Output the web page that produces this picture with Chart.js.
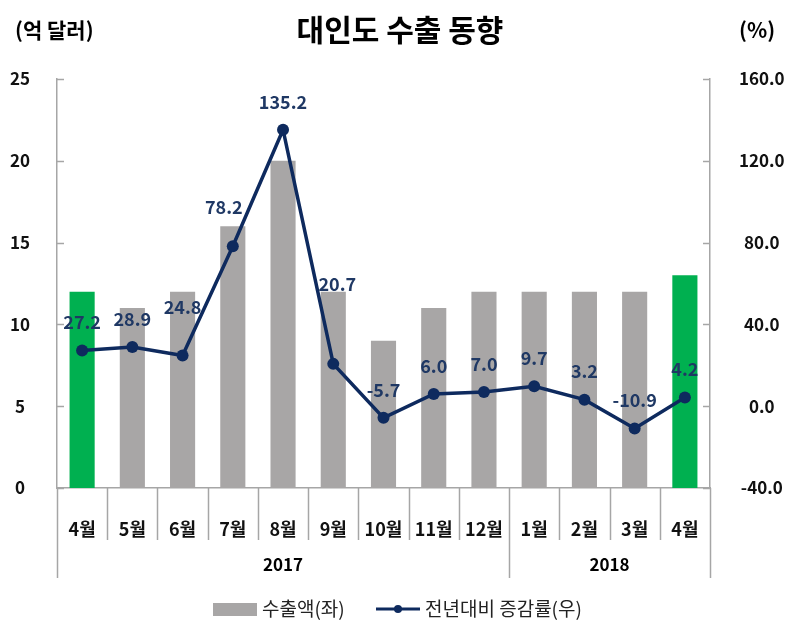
<!DOCTYPE html>
<html>
<head>
<meta charset="utf-8">
<script src="https://cdn.jsdelivr.net/npm/chart.js@4.4.1/dist/chart.umd.min.js"></script>
<style>
  html, body { margin: 0; padding: 0; background: #fff; }
</style>
</head>
<body>
<canvas id="chart" width="791" height="643"></canvas>
<script>
const months = ['4월', '5월', '6월', '7월', '8월', '9월', '10월', '11월', '12월', '1월', '2월', '3월', '4월'];
const years = ['2017', '2018'];
const yearSpans = [9, 4]; // months in each year group
const exportValues = [12, 11, 12, 16, 20, 12, 9, 11, 12, 12, 12, 12, 13];
const growthRates = [27.2, 28.9, 24.8, 78.2, 135.2, 20.7, -5.7, 6.0, 7.0, 9.7, 3.2, -10.9, 4.2];
const leftTicks = [0, 5, 10, 15, 20, 25];
const rightTicks = [-40, 0, 40, 80, 120, 160];

const FONT = '"Noto Sans CJK KR", "Noto Sans", sans-serif';
const GREY = '#a8a6a6';
const GREEN = '#00b050';
const NAVY = '#0e2a5e';
const AXIS = '#a6a6a6';

// a few value labels were moved by hand in the original so they clear the line
const labelNudge = { 2: [0, -48], 3: [-9, -39], 5: [4, -80] };

const decor = {
  id: 'decor',
  afterDatasetsDraw(chart) {
    const ctx = chart.ctx;
    const meta = chart.getDatasetMeta(1);
    ctx.save();
    ctx.fillStyle = '#1f3864';
    ctx.font = 'bold 18px ' + FONT;
    ctx.textAlign = 'center';
    ctx.textBaseline = 'middle';
    meta.data.forEach((pt, i) => {
      const [dx, dy] = labelNudge[i] || [0, -28];
      ctx.fillText(growthRates[i].toFixed(1), pt.x + dx, pt.y + dy);
    });
    ctx.restore();
  },
  afterDraw(chart) {
    const ctx = chart.ctx;
    const x = chart.scales.x, y = chart.scales.y, y1 = chart.scales.y1;
    const area = chart.chartArea;
    ctx.save();

    // title and units
    ctx.fillStyle = '#000';
    ctx.textBaseline = 'middle';
    ctx.textAlign = 'center';
    ctx.font = 'bold 30px ' + FONT;
    ctx.fillText('대인도 수출 동향', 400, 30);
    ctx.font = 'bold 21px ' + FONT;
    ctx.textAlign = 'left';
    ctx.fillText('(억 달러)', 15, 30);
    ctx.fillText('(%)', 739, 30);

    // inner tick marks on both value axes
    ctx.strokeStyle = AXIS;
    ctx.lineWidth = 1.5;
    y.ticks.forEach(t => {
      const py = Math.round(y.getPixelForValue(t.value)) + 0.5;
      ctx.beginPath(); ctx.moveTo(area.left, py); ctx.lineTo(area.left + 7, py); ctx.stroke();
    });
    y1.ticks.forEach(t => {
      const py = Math.round(y1.getPixelForValue(t.value)) + 0.5;
      ctx.beginPath(); ctx.moveTo(area.right - 7, py); ctx.lineTo(area.right, py); ctx.stroke();
    });

    // category separators, longer at year boundaries
    const n = months.length;
    const bounds = [];
    let acc = 0;
    const groupEdges = [0];
    yearSpans.forEach(s => { acc += s; groupEdges.push(acc); });
    for (let i = 0; i <= n; i++) {
      let px;
      if (i === 0) px = area.left;
      else if (i === n) px = area.right;
      else px = (x.getPixelForValue(i - 1) + x.getPixelForValue(i)) / 2;
      bounds.push(px);
      const long = groupEdges.includes(i);
      ctx.beginPath();
      ctx.moveTo(Math.round(px) + 0.5, area.bottom);
      ctx.lineTo(Math.round(px) + 0.5, long ? 578 : 540);
      ctx.stroke();
    }

    // year labels
    ctx.fillStyle = '#000';
    ctx.font = 'bold 17px ' + FONT;
    ctx.textAlign = 'center';
    years.forEach((yr, k) => {
      const cx = (bounds[groupEdges[k]] + bounds[groupEdges[k + 1]]) / 2;
      ctx.fillText(yr, cx, 565);
    });

    // legend
    ctx.fillStyle = GREY;
    ctx.fillRect(213, 603, 44, 13);
    ctx.fillStyle = '#222';
    ctx.font = '19px ' + FONT;
    ctx.textAlign = 'left';
    ctx.fillText(chart.data.datasets[0].label, 262, 609);
    ctx.strokeStyle = NAVY;
    ctx.lineWidth = 3;
    ctx.beginPath(); ctx.moveTo(376, 609); ctx.lineTo(420, 609); ctx.stroke();
    ctx.fillStyle = NAVY;
    ctx.beginPath(); ctx.arc(398, 609, 4, 0, Math.PI * 2); ctx.fill();
    ctx.fillStyle = '#222';
    ctx.fillText(chart.data.datasets[1].label, 425, 609);

    ctx.restore();
  }
};

new Chart(document.getElementById('chart').getContext('2d'), {
  data: {
    labels: months,
    datasets: [{
      type: 'bar',
      label: '수출액(좌)',
      data: exportValues,
      yAxisID: 'y',
      backgroundColor: ctx => (ctx.dataIndex === 0 || ctx.dataIndex === months.length - 1) ? GREEN : GREY,
      categoryPercentage: 1,
      barPercentage: 0.5,
      order: 2
    }, {
      type: 'line',
      label: '전년대비 증감률(우)',
      data: growthRates,
      yAxisID: 'y1',
      borderColor: NAVY,
      backgroundColor: NAVY,
      borderWidth: 3.5,
      pointRadius: 6,
      pointBackgroundColor: NAVY,
      pointBorderWidth: 0,
      tension: 0,
      order: 1
    }]
  },
  options: {
    responsive: false,
    animation: false,
    devicePixelRatio: 1,
    layout: { padding: { top: 79, left: 0, right: 0, bottom: 0 } },
    plugins: {
      legend: { display: false },
      title: { display: false },
      tooltip: { enabled: false }
    },
    scales: {
      x: {
        grid: { display: false },
        border: { display: true, color: AXIS, width: 1.5 },
        ticks: {
          autoSkip: false, maxRotation: 0, padding: 22,
          color: '#111', font: { family: FONT, size: 18, weight: 'bold' }
        },
        afterFit: s => { s.height = 155; }
      },
      y: {
        position: 'left',
        min: leftTicks[0],
        max: leftTicks[leftTicks.length - 1],
        grid: { display: false },
        border: { display: true, color: AXIS, width: 1.5 },
        ticks: {
          stepSize: leftTicks[1] - leftTicks[0], padding: 19, crossAlign: 'center',
          color: '#111', font: { family: FONT, size: 17, weight: 'bold' }
        },
        afterFit: s => { s.width = 57; }
      },
      y1: {
        position: 'right',
        min: rightTicks[0],
        max: rightTicks[rightTicks.length - 1],
        grid: { display: false },
        border: { display: true, color: AXIS, width: 1.5 },
        ticks: {
          stepSize: rightTicks[1] - rightTicks[0], padding: 21, crossAlign: 'center',
          color: '#111', font: { family: FONT, size: 17, weight: 'bold' },
          callback: v => Number(v).toFixed(1)
        },
        afterFit: s => { s.width = 81; }
      }
    }
  },
  plugins: [decor]
});
</script>
</body>
</html>
